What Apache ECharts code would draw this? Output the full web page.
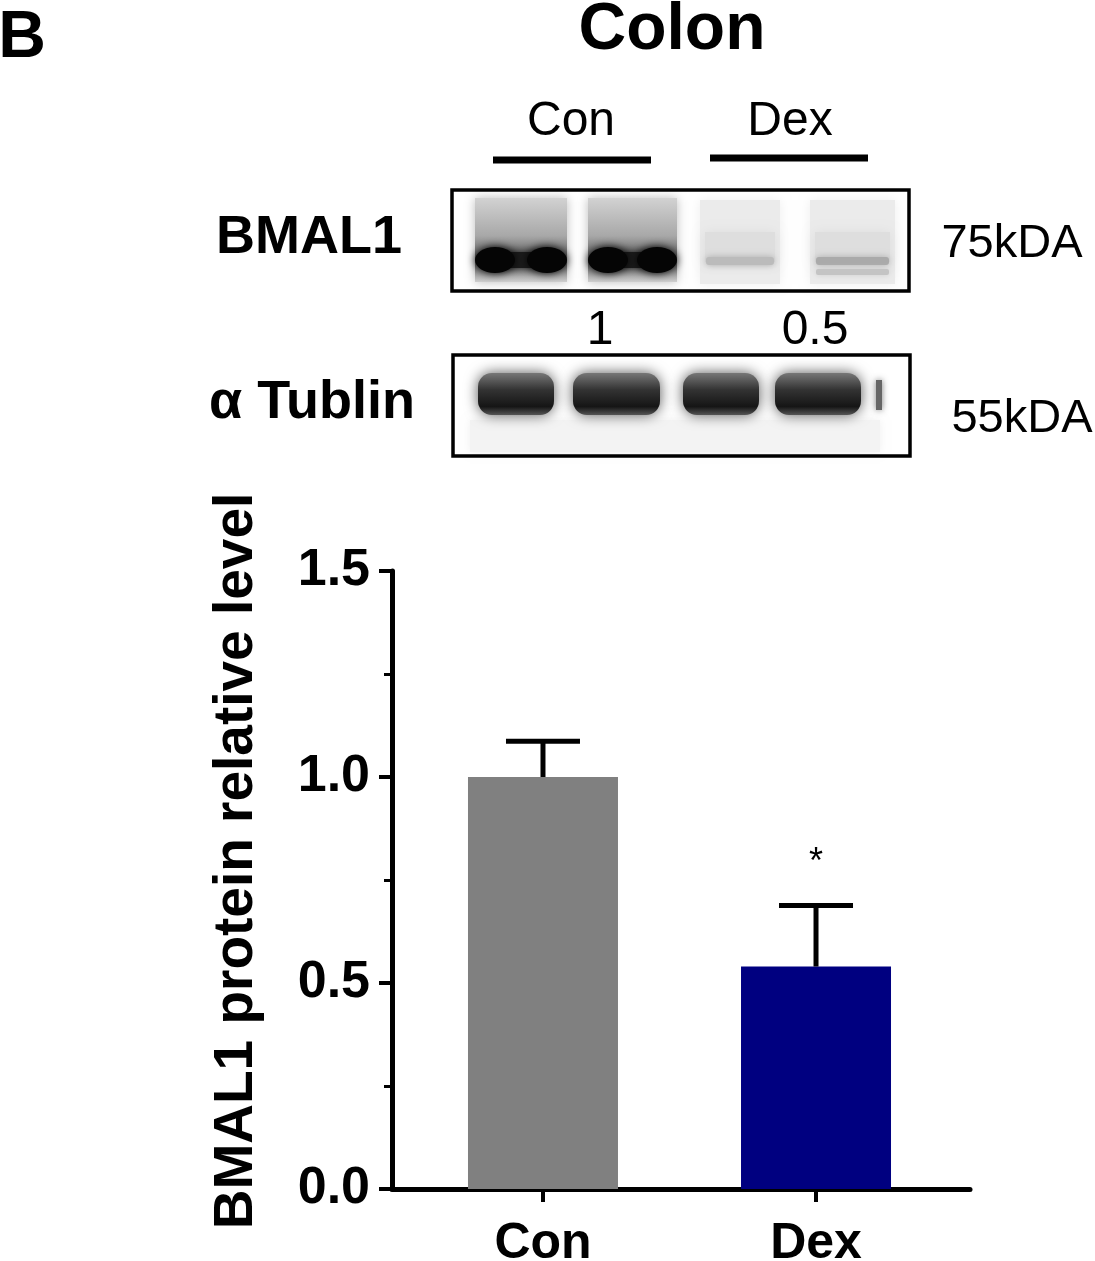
<!DOCTYPE html>
<html lang="en">
<head>
<meta charset="UTF-8">
<title>Colon BMAL1</title>
<script src="https://cdn.jsdelivr.net/npm/echarts@6/dist/echarts.min.js"></script>
<style>
  html, body { margin: 0; padding: 0; background: #fff; }
  #chart { width: 1095px; height: 1261px; }
</style>
</head>
<body>
<div id="chart"></div>
<script>
// data
const groups = ['Con', 'Dex'];
const means = [1.0, 0.54];
const sems = [0.087, 0.148];
const sigMarks = ['', '*'];
const barColors = ['#808080', '#000080'];
const yTicks = [0, 0.5, 1.0, 1.5];
const blotRatios = ['1', '0.5'];

const FONT = '"Liberation Sans", Arial, sans-serif';

// western blot drawn as graphic shapes (picture, not data)
function blotGraphics() {
  const g = [];
  const txt = (x, y, s, size, bold) => ({
    type: 'text', x: x, y: y + size * 0.08, z: 10,
    style: { text: s, fontSize: size, fontWeight: bold ? 'bold' : 'normal',
      fontFamily: FONT, fill: '#000', align: 'center', verticalAlign: 'middle' }
  });
  g.push(txt(22, 34, 'B', 66, true));
  g.push(txt(672, 26, 'Colon', 66, true));
  g.push(txt(571, 118, groups[0], 48, false));
  g.push(txt(790, 118, groups[1], 48, false));
  g.push({ type: 'line', shape: { x1: 493, y1: 160, x2: 651, y2: 160 }, style: { stroke: '#000', lineWidth: 7 } });
  g.push({ type: 'line', shape: { x1: 710, y1: 158, x2: 868, y2: 158 }, style: { stroke: '#000', lineWidth: 7 } });
  g.push(txt(309, 234, 'BMAL1', 54, true));
  g.push(txt(312, 399, 'α Tublin', 54, true));
  g.push(txt(1012, 240, '75kDA', 47, false));
  g.push(txt(1022, 415, '55kDA', 47, false));
  g.push(txt(600, 327, blotRatios[0], 48, false));
  g.push(txt(815, 327, blotRatios[1], 48, false));

  // BMAL1 blot
  const strong = [[475, 567], [588, 677]];
  strong.forEach(l => {
    g.push({ type: 'rect', shape: { x: l[0], y: 198, width: l[1] - l[0], height: 84 },
      style: { fill: new echarts.graphic.LinearGradient(0, 0, 0, 1, [
        { offset: 0, color: '#d2d2d2' }, { offset: 0.45, color: '#a8a8a8' },
        { offset: 0.75, color: '#555' }, { offset: 1, color: '#cfcfcf' }]),
        shadowBlur: 10, shadowColor: '#bbb' } });
    g.push({ type: 'rect', shape: { x: l[0] + 12, y: 252, width: l[1] - l[0] - 24, height: 16, r: 6 },
      style: { fill: '#1a1a1a', shadowBlur: 8, shadowColor: '#222' } });
    g.push({ type: 'ellipse', shape: { cx: l[0] + 20, cy: 260, rx: 20, ry: 13 },
      style: { fill: '#050505', shadowBlur: 8, shadowColor: '#000' } });
    g.push({ type: 'ellipse', shape: { cx: l[1] - 20, cy: 260, rx: 20, ry: 13 },
      style: { fill: '#050505', shadowBlur: 8, shadowColor: '#000' } });
  });
  const weak = [[700, 780], [810, 895]];
  weak.forEach((l, i) => {
    g.push({ type: 'rect', shape: { x: l[0], y: 200, width: l[1] - l[0], height: 84 },
      style: { fill: '#ebebeb', shadowBlur: 10, shadowColor: '#eee' } });
    g.push({ type: 'rect', shape: { x: l[0] + 5, y: 232, width: l[1] - l[0] - 10, height: 30 },
      style: { fill: '#dedede', shadowBlur: 12, shadowColor: '#ddd' } });
    g.push({ type: 'rect', shape: { x: l[0] + 6, y: 257, width: l[1] - l[0] - 12, height: 8, r: 3 },
      style: { fill: i ? '#aaaaaa' : '#bbbbbb', shadowBlur: 7, shadowColor: '#aaa' } });
    if (i) {
      g.push({ type: 'rect', shape: { x: l[0] + 6, y: 269, width: l[1] - l[0] - 12, height: 6, r: 2 },
        style: { fill: '#c4c4c4', shadowBlur: 6, shadowColor: '#ccc' } });
    }
  });
  g.push({ type: 'rect', shape: { x: 452, y: 190, width: 457, height: 101 },
    style: { fill: 'none', stroke: '#000', lineWidth: 3.5 } });

  // tubulin blot
  g.push({ type: 'rect', shape: { x: 470, y: 420, width: 410, height: 32 },
    style: { fill: '#f3f3f3', shadowBlur: 8, shadowColor: '#f0f0f0' } });
  const tub = [[475, 557], [570, 663], [680, 762], [772, 864]];
  tub.forEach(l => {
    g.push({ type: 'rect', shape: { x: l[0] + 3, y: 373, width: l[1] - l[0] - 6, height: 42, r: 14 },
      style: { fill: new echarts.graphic.LinearGradient(0, 0, 0, 1, [
        { offset: 0, color: '#777' }, { offset: 0.4, color: '#333' },
        { offset: 0.8, color: '#151515' }, { offset: 1, color: '#555' }]),
        shadowBlur: 14, shadowColor: '#555' } });
  });
  g.push({ type: 'rect', shape: { x: 876, y: 380, width: 6, height: 30 },
    style: { fill: '#666', shadowBlur: 6, shadowColor: '#777' } });
  g.push({ type: 'rect', shape: { x: 453, y: 355, width: 457, height: 101 },
    style: { fill: 'none', stroke: '#000', lineWidth: 3.5 } });
  return g;
}

const chart = echarts.init(document.getElementById('chart'));
const axisStyle = { color: '#000', width: 5 };

chart.setOption({
  animation: false,
  backgroundColor: '#fff',
  textStyle: { fontFamily: FONT },
  grid: { left: 392, right: 125, top: 571, bottom: 72, containLabel: false, outerBoundsMode: 'none' },
  xAxis: {
    type: 'value',
    min: 0.447,
    max: 2.564,
    splitLine: { show: false },
    axisLine: { show: true, onZero: false, lineStyle: axisStyle },
    axisTick: { show: true, length: 13, customValues: [1, 2], lineStyle: { color: '#000', width: 4 } },
    axisLabel: {
      customValues: [1, 2],
      formatter: v => groups[Math.round(v) - 1],
      color: '#000', fontSize: 50, fontWeight: 'bold', fontFamily: FONT, margin: 30
    }
  },
  yAxis: {
    type: 'value',
    min: yTicks[0],
    max: yTicks[yTicks.length - 1],
    interval: 0.5,
    name: 'BMAL1 protein relative level',
    nameLocation: 'middle',
    nameGap: 128,
    nameTextStyle: { color: '#000', fontSize: 55, fontWeight: 'bold', fontFamily: FONT, padding: [0, 0, 0, 38] },
    splitLine: { show: false },
    axisLine: { show: true, lineStyle: axisStyle },
    axisTick: { show: true, length: 13, lineStyle: { color: '#000', width: 4 } },
    minorTick: { show: true, splitNumber: 2, length: 8, lineStyle: { color: '#000', width: 3 } },
    axisLabel: {
      formatter: v => v.toFixed(1),
      color: '#000', fontSize: 52, fontWeight: 'bold', fontFamily: FONT, margin: 22,
      padding: [6, 0, 0, 0]
    }
  },
  series: [
    {
      type: 'bar',
      barWidth: 150,
      data: groups.map((g, i) => ({ value: [i + 1, means[i]], itemStyle: { color: barColors[i] } })),
      z: 2
    },
    {
      type: 'custom',
      z: 5,
      data: groups.map((g, i) => [i + 1, means[i], sems[i], i]),
      renderItem: function (params, api) {
        const x = api.value(0);
        const m = api.value(1);
        const s = api.value(2);
        const idx = api.value(3);
        const base = api.coord([x, m]);
        const top = api.coord([x, m + s]);
        const half = 37;
        const children = [
          { type: 'line', shape: { x1: base[0], y1: base[1], x2: top[0], y2: top[1] },
            style: { stroke: '#000', lineWidth: 5 } },
          { type: 'line', shape: { x1: top[0] - half, y1: top[1], x2: top[0] + half, y2: top[1] },
            style: { stroke: '#000', lineWidth: 5 } }
        ];
        if (sigMarks[idx]) {
          children.push({ type: 'text', x: top[0], y: top[1] - 42,
            style: { text: sigMarks[idx], fontSize: 36, fontFamily: FONT, fill: '#000',
              align: 'center', verticalAlign: 'middle' } });
        }
        return { type: 'group', children: children };
      }
    }
  ],
  graphic: blotGraphics()
});
</script>
</body>
</html>
